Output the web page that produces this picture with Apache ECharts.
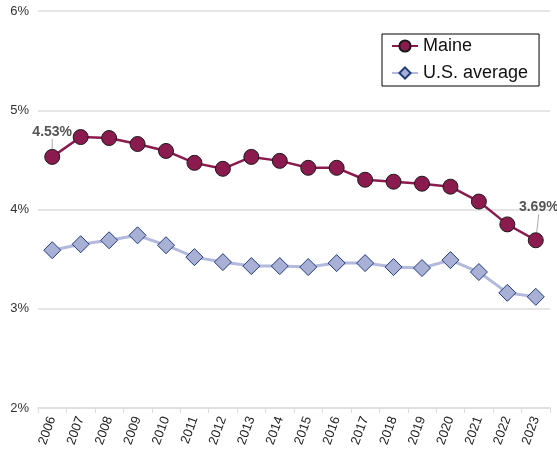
<!DOCTYPE html>
<html>
<head>
<meta charset="utf-8">
<script src="https://cdn.jsdelivr.net/npm/echarts@6/dist/echarts.min.js"></script>
<style>
html,body{margin:0;padding:0;background:#fff;}
#c{width:557px;height:458px;}
</style>
</head>
<body>
<div id="c"></div>
<script>
var years = ['2006','2007','2008','2009','2010','2011','2012','2013','2014','2015','2016','2017','2018','2019','2020','2021','2022','2023'];
var maine = [4.53,4.73,4.72,4.66,4.59,4.47,4.41,4.53,4.49,4.42,4.42,4.30,4.28,4.26,4.23,4.08,3.85,3.69];
var usAvg = [3.59,3.65,3.69,3.74,3.64,3.52,3.47,3.43,3.43,3.42,3.46,3.46,3.42,3.41,3.49,3.37,3.16,3.12];
var yTicks = [2,3,4,5,6];
var labelled = [0, 17];

var FONT = '"Liberation Sans", Arial, Helvetica, sans-serif';
var maineData = maine.map(function(v, i){
  if (labelled.indexOf(i) < 0) return v;
  return {
    value: v,
    label: {show: true, formatter: function(p){ return p.value.toFixed(2) + '%'; }},
    labelLine: {show: true, lineStyle: {color: '#aaa', width: 1}}
  };
});

var chart = echarts.init(document.getElementById('c'), null, {renderer: 'canvas'});
chart.setOption({
  animation: false,
  textStyle: {fontFamily: FONT},
  grid: {left: 38, right: 7, top: 11, bottom: 50, containLabel: false},
  legend: {
    orient: 'vertical',
    left: 382, top: 34,
    padding: [3, 11, 4, 9],
    borderColor: '#000', borderWidth: 1,
    itemGap: 9, itemWidth: 26, itemHeight: 14,
    textStyle: {fontSize: 18, lineHeight: 18, color: '#111', fontFamily: FONT},
    data: ['Maine', 'U.S. average']
  },
  xAxis: {
    type: 'category',
    data: years,
    boundaryGap: true,
    axisLine: {show: true, lineStyle: {color: '#dddddd', width: 1.5}},
    axisTick: {show: true, alignWithLabel: false, length: 5, lineStyle: {color: '#dddddd'}},
    axisLabel: {rotate: 70, fontSize: 13, color: '#222', margin: 9, fontFamily: FONT, interval: 0}
  },
  yAxis: {
    type: 'value',
    min: yTicks[0], max: yTicks[yTicks.length - 1], interval: 1,
    axisLine: {show: false},
    axisTick: {show: false},
    splitLine: {lineStyle: {color: '#dddddd', width: 1.5}},
    axisLabel: {formatter: '{value}%', fontSize: 13, color: '#333', margin: 9, fontFamily: FONT}
  },
  series: [
    {
      name: 'U.S. average',
      type: 'line',
      data: usAvg,
      symbol: 'diamond',
      symbolSize: 17,
      lineStyle: {color: '#b3b9dc', width: 3},
      itemStyle: {color: '#a9b0d6', borderColor: '#1f3b7a', borderWidth: 1},
      z: 2
    },
    {
      name: 'Maine',
      type: 'line',
      data: maineData,
      symbol: 'circle',
      symbolSize: 15,
      lineStyle: {color: '#8b1a4f', width: 2.5},
      itemStyle: {color: '#8b1a4f', borderColor: '#1a1a1a', borderWidth: 1},
      label: {show: false, position: 'top', fontSize: 14, fontWeight: 'bold', color: '#555', fontFamily: FONT},
      labelLayout: function(p){
        if (p.dataIndex === 0) return {dy: -5};
        if (p.dataIndex === 17) return {dx: 3, dy: -13};
        return {};
      },
      z: 3
    }
  ]
});
</script>
</body>
</html>
